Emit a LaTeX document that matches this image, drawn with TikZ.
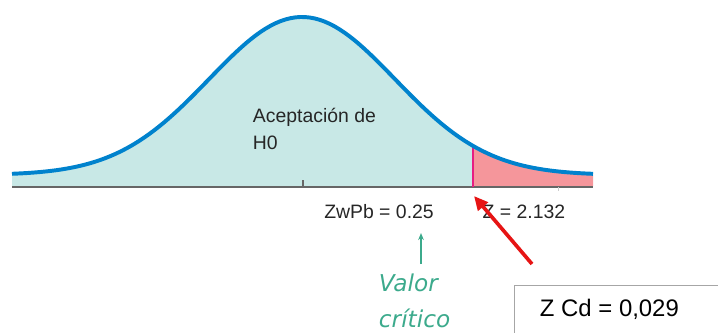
\documentclass[tikz,border=0pt]{standalone}
\usepackage{fontspec}
\setmainfont{Liberation Sans}
\newfontfamily\handfont{DejaVu Sans}
\usetikzlibrary{arrows.meta}
\definecolor{curveblue}{RGB}{0,130,205}
\definecolor{acceptfill}{RGB}{200,232,230}
\definecolor{rejectfill}{RGB}{245,150,155}
\definecolor{critline}{RGB}{230,30,130}
\definecolor{notegreen}{RGB}{60,170,140}
\definecolor{pointred}{RGB}{230,20,20}
\newcommand{\bell}[1]{175-158*exp(-((#1-302)/93)*((#1-302)/93)/2)}

\begin{document}
\begin{tikzpicture}[x=0.025cm,y=-0.025cm]
		\useasboundingbox (0,0) rectangle (718,332);
		% area of acceptance and rejection
		\fill[acceptfill] (12,186) -- plot[domain=12:473, samples=80] (\x,{\bell{\x}}) -- (473,186) -- cycle;
		\fill[rejectfill] (473,186) -- plot[domain=473:593, samples=30] (\x,{\bell{\x}}) -- (593,186) -- cycle;
		% axis and ticks
		\draw[gray!80!black, line width=1pt] (12,187) -- (593,187);
		\draw[gray!80!black, line width=0.8pt] (303,180) -- (303,187);
		\draw[gray!40, line width=0.6pt] (558,187) -- (558,191);
		% critical line
		\draw[critline, line width=1.6pt] (473,{\bell{473}}) -- (473,187);
		% bell curve
		\draw[curveblue, line width=2.8pt] plot[domain=12:593, samples=120] (\x,{\bell{\x}});
		% labels
		\node[anchor=west, align=left, font=\fontsize{13.8}{19}\selectfont, text=black!85] (accept) at (248,129) {Aceptación de\\H0};
		\node[font=\fontsize{13.8}{16}\selectfont, text=black!85] (zwpb) at (379,212) {ZwPb = 0.25};
		\node[font=\fontsize{13.8}{16}\selectfont, text=black!85] (zval) at (524,212) {Z = 2.132};
		\node[anchor=west, align=left, font=\handfont\itshape\fontsize{16.5}{26}\selectfont, text=notegreen] (valor) at (374,301) {Valor\\crítico};
		% green arrow
		\coordinate (gtail) at (421,264);
		\coordinate (ghead) at (421,233);
		\draw[notegreen, line width=1pt, -{Stealth[length=5pt,width=4pt]}] (gtail) -- (ghead);
		% result box
		\node[draw=gray!70, line width=1pt, anchor=north west, minimum width=5.4cm, minimum height=1.3cm, inner sep=0pt] (cdbox) at (514,285) {};
		\node[anchor=west, font=\fontsize{17}{20}\selectfont] (cd) at (535,309) {Z Cd = 0,029};
		% red arrow
		\coordinate (rtail) at (532,264);
		\coordinate (rhead) at (474,196);
		\draw[pointred, line width=2.6pt, -{Triangle[length=10pt,width=9pt]}] (rtail) -- (rhead);
	\end{tikzpicture}
\end{document}
